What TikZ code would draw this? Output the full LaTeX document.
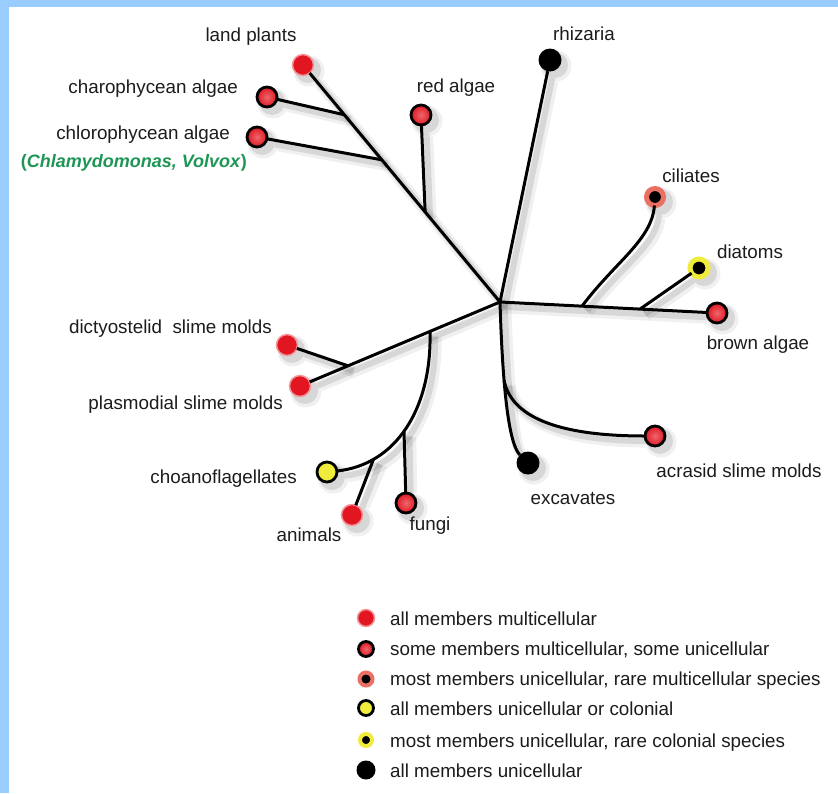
\documentclass[tikz,border=0pt]{standalone}
\usepackage{fontspec}
\setmainfont{Liberation Sans}
\usetikzlibrary{calc}

\definecolor{frame}{RGB}{153,204,255}
\definecolor{mred}{RGB}{226,22,32}
\definecolor{ringred}{RGB}{234,112,100}
\definecolor{myellow}{RGB}{240,236,60}
\definecolor{ink}{RGB}{28,28,28}
\definecolor{latin}{RGB}{30,150,85}

\tikzset{
  dot/.style={circle, inner sep=0pt, outer sep=0pt, minimum size=#1},
  allmulti/.style={dot=21, fill=mred, draw=mred!45!white, line width=1.5},
  somemulti/.style={dot=20, inner color=mred!65!white, outer color=mred, draw=black, line width=2.8},
  raremulti/.style={dot=17, fill=black, draw=ringred, line width=5},
  colonial/.style={dot=20, fill=myellow, draw=black, line width=2.8},
  rarecol/.style={dot=18, fill=black, draw=myellow, line width=5},
  unicell/.style={dot=23, fill=black},
  branch/.style={line width=3, black},
  lbl/.style={font=\fontsize{18.8}{22}\selectfont, text=ink, inner sep=0pt},
  shadowpass/.style={
    allmulti/.style={dot=#1, fill=black, draw=none},
    somemulti/.style={dot=#1, fill=black, draw=none},
    raremulti/.style={dot=#1, fill=black, draw=none},
    colonial/.style={dot=#1, fill=black, draw=none},
    rarecol/.style={dot=#1, fill=black, draw=none},
    unicell/.style={dot=#1, fill=black, draw=none}},
}

% The tree: leaf dots, junctions on the branches, and the branches themselves
\newcommand\drawtree{%
  \coordinate (hub) at (500,302);
  \node[allmulti]  (lp)  at (303,65)  {};
  \node[somemulti] (cha) at (267,97)  {};
  \node[somemulti] (chl) at (257,137) {};
  \node[somemulti] (ra)  at (421,115) {};
  \node[unicell]   (rh)  at (550,60)  {};
  \node[raremulti] (ci)  at (655,197) {};
  \node[rarecol]   (di)  at (699,268) {};
  \node[somemulti] (ba)  at (717,313) {};
  \node[somemulti] (ac)  at (655,436) {};
  \node[unicell]   (ex)  at (528,463) {};
  \node[allmulti]  (dy)  at (287,345) {};
  \node[allmulti]  (pl)  at (300,386) {};
  \node[colonial]  (ch)  at (327,472) {};
  \node[allmulti]  (an)  at (352,515) {};
  \node[somemulti] (fu)  at (406,503) {};
  \coordinate (jra)  at ($(hub)!0.38!(lp)$);
  \coordinate (jchl) at ($(hub)!0.60!(lp)$);
  \coordinate (jcha) at ($(hub)!0.79!(lp)$);
  \coordinate (jci)  at ($(hub)!0.378!(ba)$);
  \coordinate (jdi)  at ($(hub)!0.645!(ba)$);
  \coordinate (jfa)  at ($(hub)!0.35!(pl)$);
  \coordinate (jdy)  at ($(hub)!0.76!(pl)$);
  % plants and red algae
  \draw[branch] (hub) -- (lp);
  \draw[branch] (jcha) -- (cha);
  \draw[branch] (jchl) -- (chl);
  \draw[branch] (jra) -- (ra);
  % rhizaria
  \draw[branch] (hub) -- (rh);
  % stramenopiles and alveolates
  \draw[branch] (hub) -- (ba);
  \draw[branch] (jdi) -- (di);
  \draw[branch] (jci) .. controls (615,262) and (652,240) .. (ci);
  % excavates and acrasids
  \draw[branch] (hub) .. controls (503,400) and (510,445) .. (ex)
    coordinate[pos=0.32] (jac);
  \draw[branch] (jac) .. controls (512,420) and (565,436) .. (ac);
  % amoebozoans and opisthokonts
  \draw[branch] (hub) -- (pl);
  \draw[branch] (jdy) -- (dy);
  \draw[branch] (jfa) .. controls (432,410) and (395,465) .. (ch)
    coordinate[pos=0.52] (jfu) coordinate[pos=0.77] (jan);
  \draw[branch] (jfu) -- (fu);
  \draw[branch] (jan) -- (an);
}

\begin{document}
\begin{tikzpicture}[x=1pt,y=-1pt]
  \useasboundingbox (0,0) rectangle (838,793);
  \fill[frame] (0,0) rectangle (838,793);
  \fill[white] (9,7) rectangle (838,793);

  % soft drop shadow of the tree
  \begin{scope}[shift={(6,6)}, opacity=0.06, shadowpass=31, branch/.style={line width=11, black}]
    \drawtree
  \end{scope}
  \begin{scope}[shift={(5,5)}, opacity=0.10, shadowpass=26, branch/.style={line width=6, black}]
    \drawtree
  \end{scope}

  % the tree itself
  \drawtree

  % leaf labels
  \node[lbl, anchor=base]      (tlp)  at (251,41)  {land plants};
  \node[lbl, anchor=base east] (tcha) at (238,93)  {charophycean algae};
  \node[lbl, anchor=base east] (tchl) at (230,139) {chlorophycean algae};
  \node[lbl, anchor=base east, text=latin, font=\fontsize{18}{22}\selectfont\bfseries]
                               (tgen) at (247,167) {(\textit{Chlamydomonas, Volvox})};
  \node[lbl, anchor=base]      (tra)  at (456,92)  {red algae};
  \node[lbl, anchor=base]      (trh)  at (584,40)  {rhizaria};
  \node[lbl, anchor=base]      (tci)  at (691,182) {ciliates};
  \node[lbl, anchor=base]      (tdi)  at (750,258) {diatoms};
  \node[lbl, anchor=base]      (tba)  at (758,349) {brown algae};
  \node[lbl, anchor=base]      (tac)  at (739,477) {acrasid slime molds};
  \node[lbl, anchor=base]      (tex)  at (573,504) {excavates};
  \node[lbl, anchor=base]      (tfu)  at (430,530) {fungi};
  \node[lbl, anchor=base]      (tan)  at (309,541) {animals};
  \node[lbl, anchor=base east] (tch)  at (297,483) {choanoflagellates};
  \node[lbl, anchor=base east] (tdy)  at (272,333) {dictyostelid\ \ slime molds};
  \node[lbl, anchor=base east] (tpl)  at (283,409) {plasmodial slime molds};

  % key
  \node[allmulti, minimum size=17]  (k1) at (366,618) {};
  \node[somemulti, minimum size=15] (k2) at (366,649) {};
  \node[raremulti, minimum size=13, line width=4] (k3) at (366,679) {};
  \node[colonial, minimum size=15]  (k4) at (366,708) {};
  \node[rarecol, minimum size=12, line width=4]   (k5) at (366,740) {};
  \node[unicell, minimum size=19]   (k6) at (366,770) {};
  \node[lbl, anchor=base west] (l1) at (390,625) {all members multicellular};
  \node[lbl, anchor=base west] (l2) at (390,655) {some members multicellular, some unicellular};
  \node[lbl, anchor=base west] (l3) at (390,685) {most members unicellular, rare multicellular species};
  \node[lbl, anchor=base west] (l4) at (390,715) {all members unicellular or colonial};
  \node[lbl, anchor=base west] (l5) at (390,747) {most members unicellular, rare colonial species};
  \node[lbl, anchor=base west] (l6) at (390,777) {all members unicellular};
\end{tikzpicture}
\end{document}
